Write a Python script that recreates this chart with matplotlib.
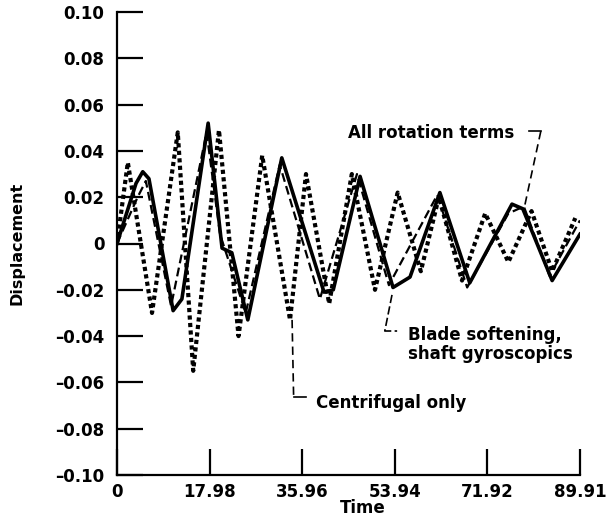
import matplotlib
matplotlib.use("Agg")
import matplotlib.pyplot as plt

plt.rcParams['font.family'] = ['DejaVu Sans']
plt.rcParams['font.weight'] = 'bold'

# Blade softening, shaft gyroscopics (solid)
t_blade = [0, 3.7, 5.0, 6.2, 10.9, 12.6, 17.7, 20.4, 22.3, 25.4, 32.0, 40.2, 42.0, 47.2,
           53.6, 56.9, 62.7, 68.5, 76.7, 78.8, 84.5, 89.9]
d_blade = [0, 0.026, 0.031, 0.028, -0.029, -0.024, 0.052, -0.002, -0.004, -0.033, 0.037,
           -0.021, -0.020, 0.029, -0.019, -0.0145, 0.022, -0.017, 0.017, 0.015, -0.016, 0.004]

# All rotation terms (thin dashed)
t_all = [0, 4.0, 5.6, 10.5, 17.4, 20.0, 25.0, 31.6, 39.4, 46.6, 52.8, 62.2, 68.0,
         76.0, 79.0, 84.0, 89.9]
d_all = [0, 0.020, 0.027, -0.027, 0.048, 0.004, -0.030, 0.034, -0.024, 0.030, -0.018,
         0.021, -0.019, 0.013, 0.016, -0.014, 0.010]

# Centrifugal only (heavy short dashes)
t_cent = [0, 2.1, 6.8, 11.8, 14.8, 19.8, 23.6, 28.2, 33.6, 36.7, 41.2, 45.6, 50.1,
          54.5, 59.0, 62.5, 67.0, 71.5, 76.0, 80.5, 84.5, 89.0]
d_cent = [0, 0.035, -0.030, 0.048, -0.055, 0.049, -0.040, 0.038, -0.033, 0.030, -0.026,
          0.030, -0.020, 0.022, -0.012, 0.020, -0.016, 0.013, -0.008, 0.014, -0.012, 0.011]

x_ticks = [0, 17.98, 35.96, 53.94, 71.92, 89.91]
x_labels = ['0', '17.98', '35.96', '53.94', '71.92', '89.91']
y_ticks = [0.10, 0.08, 0.06, 0.04, 0.02, 0, -0.02, -0.04, -0.06, -0.08, -0.10]
y_labels = ['0.10', '0.08', '0.06', '0.04', '0.02', '0',
            '\u20130.02', '\u20130.04', '\u20130.06', '\u20130.08', '\u20130.10']

fig = plt.figure(figsize=(6.14, 5.29), dpi=100)
ax = fig.add_axes([117 / 614, 1 - 475 / 529, 463 / 614, 463 / 529])

ax.plot(t_cent, d_cent, color='black', lw=3.0, linestyle=(0, (1.0, 0.8)))
ax.plot(t_all, d_all, color='black', lw=1.6, linestyle=(0, (4, 2)))
ax.plot(t_blade, d_blade, color='black', lw=2.6)

ax.set_xlim(0, 89.91)
ax.set_ylim(-0.10, 0.10)
ax.spines['top'].set_visible(False)
ax.spines['right'].set_visible(False)
ax.spines['left'].set_linewidth(1.6)
ax.spines['bottom'].set_linewidth(1.6)

ax.set_xticks(x_ticks)
ax.set_xticklabels(x_labels)
ax.set_yticks(y_ticks)
ax.set_yticklabels(y_labels)
ax.tick_params(direction='in', length=19, width=1.6, labelsize=12)
ax.tick_params(axis='x', pad=6)
ax.tick_params(axis='y', pad=9)

ax.set_xlabel('Time', fontsize=12, fontweight='bold')
ax.xaxis.set_label_coords(0.531, -0.052)
ax.set_ylabel('Displacement', fontsize=11.5, fontweight='bold')
ax.yaxis.set_label_coords(-0.200, 0.5)

# Annotations with leader lines
ax.text(44.9, 0.0477, 'All rotation terms', fontsize=12, fontweight='bold', va='center', ha='left')
ax.plot([80.0, 82.3], [0.0485, 0.0485], color='black', lw=1.2)
ax.plot([82.3, 79.2], [0.0485, 0.0166], color='black', lw=1.2, linestyle=(0, (5, 3)))

ax.text(56.5, -0.0435, 'Blade softening,\nshaft gyroscopics', fontsize=12, fontweight='bold',
        va='center', ha='left', linespacing=1.1)
ax.plot([53.4, 52.0, 54.4], [-0.0222, -0.0378, -0.0378], color='black', lw=1.2,
        linestyle=(0, (5, 2)))

ax.text(38.6, -0.0689, 'Centrifugal only', fontsize=12, fontweight='bold', va='center', ha='left')
ax.plot([34.0, 34.3], [-0.033, -0.0665], color='black', lw=1.2, linestyle=(0, (5, 3)))
ax.plot([34.3, 36.7], [-0.0665, -0.0665], color='black', lw=1.2)

fig.savefig('out.png', dpi=100)
